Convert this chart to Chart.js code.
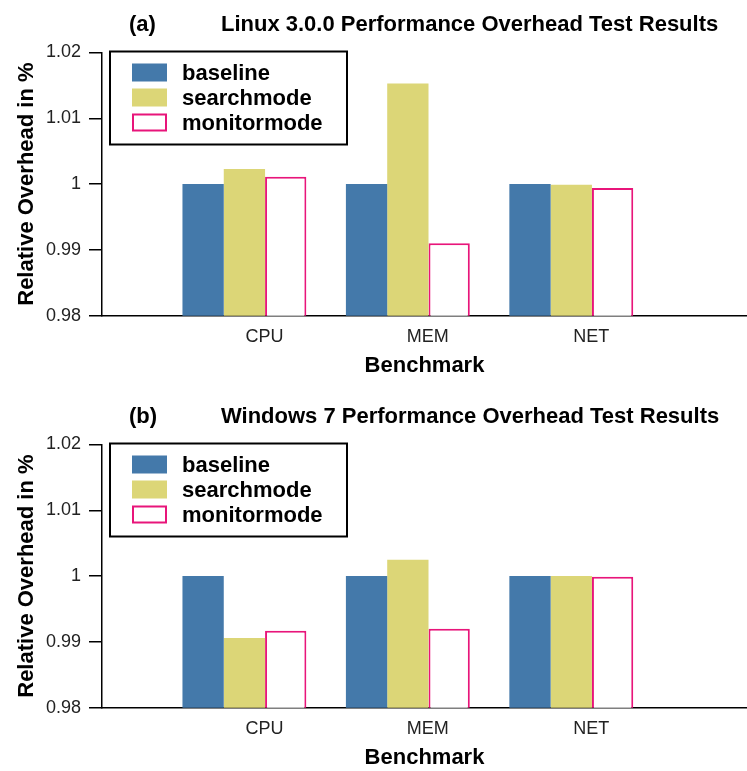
<!DOCTYPE html>
<html>
<head>
<meta charset="utf-8">
<script src="https://cdn.jsdelivr.net/npm/chart.js@4.4.1/dist/chart.umd.min.js"></script>
<style>
  html, body { margin: 0; padding: 0; background: #fff; overflow: hidden; }
  .panel { position: relative; width: 747px; height: 392px; }
</style>
</head>
<body>
<div class="panel"><canvas id="linux"></canvas></div>
<div class="panel"><canvas id="windows"></canvas></div>
<script>
// benchmark categories and series
const categories = ['CPU', 'MEM', 'NET'];
const seriesNames = ['baseline', 'searchmode', 'monitormode'];
const yTicks = [0.98, 0.99, 1, 1.01, 1.02];

// (a) Linux 3.0.0
const linuxBaseline = [1, 1, 1];
const linuxSearch = [1.0023, 1.0153, 0.9999];
const linuxMonitor = [1.0011, 0.9910, 0.9994];

// (b) Windows 7
const winBaseline = [1, 1, 1];
const winSearch = [0.9906, 1.0025, 1.0];
const winMonitor = [0.9917, 0.9920, 0.9999];

const FONT = '"Liberation Sans", Arial, Helvetica, sans-serif';
const BLUE = '#4479aa';
const KHAKI = '#dcd677';
const PINK = '#e8157a';

// title drawn by hand: "(a)" on the left, heading after it
const headingPlugin = {
  id: 'heading',
  afterDraw(chart, args, opts) {
    const ctx = chart.ctx;
    ctx.save();
    ctx.fillStyle = '#000';
    ctx.font = 'bold 22px ' + FONT;
    ctx.textBaseline = 'alphabetic';
    ctx.textAlign = 'left';
    ctx.fillText(opts.tag, 129, 31);
    ctx.fillText(opts.text, 221, 31);
    ctx.restore();
  }
};

// boxed legend in upper left of plot area
const boxLegendPlugin = {
  id: 'boxLegend',
  afterDraw(chart) {
    const ctx = chart.ctx;
    const area = chart.chartArea;
    const left = area.left + 8, top = area.top - 1;
    ctx.save();
    ctx.fillStyle = '#fff';
    ctx.fillRect(left, top, 237, 93);
    ctx.strokeStyle = '#000';
    ctx.lineWidth = 2;
    ctx.strokeRect(left, top, 237, 93);
    ctx.font = 'bold 22px ' + FONT;
    ctx.textBaseline = 'middle';
    chart.data.datasets.forEach((ds, i) => {
      const y = top + 12 + i * 25;
      ctx.fillStyle = ds.backgroundColor;
      ctx.fillRect(left + 22, y, 35, 18);
      if (ds.borderWidth) {
        ctx.strokeStyle = ds.borderColor;
        ctx.lineWidth = 2;
        ctx.strokeRect(left + 23, y + 1, 33, 16);
      }
      ctx.fillStyle = '#000';
      ctx.fillText(ds.label, left + 72, y + 10);
    });
    ctx.restore();
  }
};

const makeChart = ({ id, tag, text, baseline, search, monitor }) => {
  const toPoints = values => values.map((v, i) => ({ x: i + 1, y: v }));
  return new Chart(document.getElementById(id), {
    type: 'bar',
    data: {
      datasets: [
        { label: seriesNames[0], data: toPoints(baseline), backgroundColor: BLUE, borderWidth: 0 },
        { label: seriesNames[1], data: toPoints(search), backgroundColor: KHAKI, borderWidth: 0 },
        { label: seriesNames[2], data: toPoints(monitor), backgroundColor: '#ffffff', borderColor: PINK, borderWidth: 2 }
      ]
    },
    options: {
      responsive: false,
      animation: false,
      devicePixelRatio: 1,
      layout: { padding: { top: 52.5, right: 0, bottom: 0, left: 0 } },
      categoryPercentage: 0.758,
      barPercentage: 1,
      plugins: {
        legend: { display: false },
        tooltip: { enabled: false },
        heading: { tag, text }
      },
      scales: {
        x: {
          type: 'linear',
          min: 0.1287,
          max: 4.075,
          offset: false,
          afterBuildTicks: scale => { scale.ticks = categories.map((c, i) => ({ value: i + 1 })); },
          afterFit: scale => { scale.height = 392 - 315.7; },
          grid: { display: false, drawTicks: false },
          border: { display: true, color: '#000', width: 1.5 },
          ticks: {
            padding: 11,
            labelOffset: 20,
            color: '#222',
            font: { family: FONT, size: 18 },
            callback: (v) => categories[v - 1] || ''
          },
          title: {
            display: true,
            text: 'Benchmark',
            color: '#000',
            font: { family: FONT, size: 22, weight: 'bold' },
            padding: { top: 0, bottom: 13 }
          }
        },
        y: {
          min: 0.98,
          max: 1.02,
          afterBuildTicks: scale => { scale.ticks = yTicks.map(v => ({ value: v })); },
          afterFit: scale => { scale.width = 102; },
          grid: { drawOnChartArea: false, color: '#000', lineWidth: 1.5, tickLength: 13 },
          border: { display: true, color: '#000', width: 1.5 },
          ticks: {
            padding: 8,
            color: '#222',
            font: { family: FONT, size: 18 },
            callback: v => String(Math.round(v * 100) / 100)
          },
          title: {
            display: true,
            text: 'Relative Overhead in %',
            color: '#000',
            font: { family: FONT, size: 22, weight: 'bold' },
            padding: { top: 14, bottom: 0 }
          }
        }
      }
    },
    plugins: [headingPlugin, boxLegendPlugin]
  });
};

const canvases = ['linux', 'windows'];
canvases.forEach(id => {
  const c = document.getElementById(id);
  c.width = 747;
  c.height = 392;
});

makeChart({
  id: 'linux', tag: '(a)', text: 'Linux 3.0.0 Performance Overhead Test Results',
  baseline: linuxBaseline, search: linuxSearch, monitor: linuxMonitor
});
makeChart({
  id: 'windows', tag: '(b)', text: 'Windows 7 Performance Overhead Test Results',
  baseline: winBaseline, search: winSearch, monitor: winMonitor
});
</script>
</body>
</html>
